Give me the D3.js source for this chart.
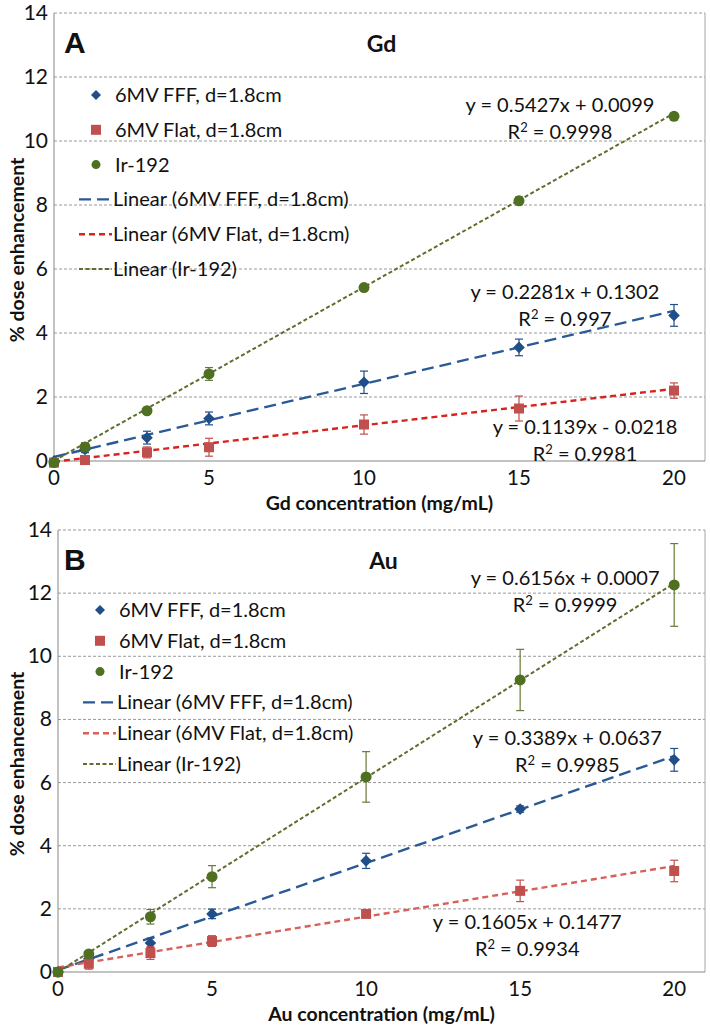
<!DOCTYPE html>
<html>
<head>
<meta charset="utf-8">
<script src="https://cdn.jsdelivr.net/npm/d3@7"></script>
<style>
  body { margin: 0; background: #fff; }
  svg text { font-family: Lato, "Open Sans", sans-serif; fill: #111; }
</style>
</head>
<body>
<script>
// concentrations (mg/mL) shared by both panels
const concentrations = [0, 1, 3, 5, 10, 15, 20];
const yTicks = [0, 2, 4, 6, 8, 10, 12, 14];
const xTicks = [0, 5, 10, 15, 20];

const seriesNames = ["6MV FFF, d=1.8cm", "6MV Flat, d=1.8cm", "Ir-192"];
const trendNames = ["Linear (6MV FFF, d=1.8cm)", "Linear (6MV Flat, d=1.8cm)", "Linear (Ir-192)"];

// panel A : Gd
const gdFFF     = [0.00, 0.36, 0.73, 1.33, 2.46, 3.55, 4.55];
const gdFFFErr  = [0.03, 0.10, 0.20, 0.20, 0.35, 0.26, 0.34];
const gdFlat    = [-0.05, 0.03, 0.27, 0.43, 1.14, 1.64, 2.20];
const gdFlatErr = [0.03, 0.05, 0.17, 0.28, 0.30, 0.39, 0.24];
const gdIr      = [-0.05, 0.44, 1.57, 2.72, 5.42, 8.13, 10.77];
const gdIrErr   = [0.03, 0.13, 0.10, 0.20, 0.08, 0.12, 0.10];
// slope, intercept, equation text, R² text
const gdFits = [
  [0.2281, 0.1302, "y = 0.2281x + 0.1302", "0.997"],
  [0.1139, -0.0218, "y = 0.1139x - 0.0218", "0.9981"],
  [0.5427, 0.0099, "y = 0.5427x + 0.0099", "0.9998"]
];

// panel B : Au
const auFFF     = [0.00, 0.42, 0.92, 1.84, 3.52, 5.16, 6.72];
const auFFFErr  = [0.03, 0.05, 0.15, 0.15, 0.24, 0.10, 0.36];
const auFlat    = [0.00, 0.26, 0.60, 0.98, 1.84, 2.57, 3.20];
const auFlatErr = [0.03, 0.17, 0.20, 0.17, 0.10, 0.34, 0.34];
const auIr      = [0.00, 0.57, 1.75, 3.02, 6.18, 9.25, 12.26];
const auIrErr   = [0.03, 0.05, 0.23, 0.35, 0.80, 0.97, 1.31];
const auFits = [
  [0.3389, 0.0637, "y = 0.3389x + 0.0637", "0.9985"],
  [0.1605, 0.1477, "y = 0.1605x + 0.1477", "0.9934"],
  [0.6156, 0.0007, "y = 0.6156x + 0.0007", "0.9999"]
];

const markerCol = ["#1F4E88", "#C0504D", "#4F7021"];
const errCol = ["#1F4E88", "#C0504D", "#667A3A"];

const panels = [
  { letter: "A", title: "Gd", xLabel: "Gd concentration (mg/mL)",
    left: 54, right: 705, top: 13, bottom: 461,
    values: [gdFFF, gdFlat, gdIr], errors: [gdFFFErr, gdFlatErr, gdIrErr], fits: gdFits,
    trendCol: ["#2A5A96", "#D8231E", "#5E6E2C"],
    eqAt: [[16.48, 5.28], [17.13, 1.06], [16.32, 11.12]],
    legend: { x: 79, y: 95, step: 34.8 } },
  { letter: "B", title: "Au", xLabel: "Au concentration (mg/mL)",
    left: 58, right: 705, top: 530, bottom: 972,
    values: [auFFF, auFlat, auIr], errors: [auFFFErr, auFlatErr, auIrErr], fits: auFits,
    trendCol: ["#2A5A96", "#D8605A", "#5E6E2C"],
    eqAt: [[16.53, 7.41], [15.23, 1.58], [16.46, 12.48]],
    legend: { x: 83, y: 610, step: 30.8 } }
];

const dashes = ["12,6", "6,4", "4,2.5"];
const trendWidth = [2.4, 2.4, 2];

const svg = d3.select("body").append("svg")
  .attr("width", 710)
  .attr("height", 1028);

// k: 0 diamond, 1 square, 2 circle; s = half size
function marker(g, k, s, col) {
  if (k === 0) {
    g.append("path").attr("d", `M0,${-s}L${s},0L0,${s}L${-s},0Z`).attr("fill", col);
  } else if (k === 1) {
    g.append("rect").attr("x", -s).attr("y", -s).attr("width", 2 * s).attr("height", 2 * s).attr("fill", col);
  } else {
    g.append("circle").attr("r", s).attr("fill", col);
  }
}

panels.forEach(p => {
  const x = d3.scaleLinear().domain([0, 21]).range([p.left, p.right]);
  const y = d3.scaleLinear().domain([0, 14]).range([p.bottom, p.top]);
  const g = svg.append("g");

  // gridlines
  g.selectAll("line.grid").data(yTicks.filter(t => t > 0)).join("line")
    .attr("x1", p.left).attr("x2", p.right)
    .attr("y1", d => y(d)).attr("y2", d => y(d))
    .attr("stroke", "#9a9a9a").attr("stroke-width", 1).attr("stroke-dasharray", "3,2");

  // frame
  g.append("line").attr("x1", p.right).attr("x2", p.right).attr("y1", p.top).attr("y2", p.bottom)
    .attr("stroke", "#a6a6a6");
  g.append("line").attr("x1", p.left).attr("x2", p.left).attr("y1", p.top).attr("y2", p.bottom)
    .attr("stroke", "#868686");
  g.append("line").attr("x1", p.left).attr("x2", p.right).attr("y1", p.bottom).attr("y2", p.bottom)
    .attr("stroke", "#868686");

  // tick labels
  g.selectAll("text.yt").data(yTicks).join("text")
    .attr("x", p.left - 6).attr("y", d => y(d) + 7)
    .attr("text-anchor", "end").style("font-size", "21px")
    .text(d => d);
  g.selectAll("text.xt").data(xTicks).join("text")
    .attr("x", d => x(d)).attr("y", p.bottom + 24)
    .attr("text-anchor", "middle").style("font-size", "20.5px")
    .text(d => d);

  // axis titles
  g.append("text")
    .attr("x", (p.left + p.right) / 2).attr("y", p.bottom + 49)
    .attr("text-anchor", "middle").style("font-size", "19.5px").style("font-weight", "bold")
    .text(p.xLabel);
  g.append("text")
    .attr("transform", `translate(24,${(p.top + p.bottom) / 2 + 13}) rotate(-90)`)
    .attr("text-anchor", "middle").style("font-size", "19.5px").style("font-weight", "bold")
    .text("% dose enhancement");

  // panel letter and title
  g.append("text").attr("x", 64).attr("y", p.top + 40)
    .style("font-family", "'Liberation Sans', Arial, sans-serif")
    .style("font-size", "30px").style("font-weight", "bold").text(p.letter);
  g.append("text").attr("x", (p.left + p.right) / 2 + 2).attr("y", p.top + 39)
    .attr("text-anchor", "middle").style("font-size", "23px").style("font-weight", "bold")
    .text(p.title);

  // trend lines
  p.fits.forEach((f, k) => {
    g.append("line")
      .attr("x1", x(0)).attr("y1", y(f[1]))
      .attr("x2", x(20)).attr("y2", y(f[0] * 20 + f[1]))
      .attr("stroke", p.trendCol[k]).attr("stroke-width", trendWidth[k])
      .attr("stroke-dasharray", dashes[k]);
  });

  // error bars and markers
  p.values.forEach((vals, k) => {
    const pts = concentrations.map((c, i) => ({ c, v: vals[i], e: p.errors[k][i] }));
    const eb = g.append("g").attr("stroke", errCol[k]).attr("stroke-width", 1.2);
    pts.forEach(d => {
      eb.append("line").attr("x1", x(d.c)).attr("x2", x(d.c))
        .attr("y1", y(d.v - d.e)).attr("y2", y(d.v + d.e));
      [d.v - d.e, d.v + d.e].forEach(t => {
        eb.append("line").attr("x1", x(d.c) - 4).attr("x2", x(d.c) + 4)
          .attr("y1", y(t)).attr("y2", y(t));
      });
    });
    pts.forEach(d => {
      const m = g.append("g").attr("transform", `translate(${x(d.c)},${y(d.v)})`);
      marker(m, k, k === 0 ? 5.8 : (k === 1 ? 5 : 5.5), markerCol[k]);
    });
  });

  // equation labels
  p.fits.forEach((f, k) => {
    const cx = x(p.eqAt[k][0]), cy = y(p.eqAt[k][1]);
    g.append("text").attr("x", cx).attr("y", cy + 7)
      .attr("text-anchor", "middle").style("font-size", "20px").text(f[2]);
    const r = g.append("text").attr("x", cx).attr("y", cy + 34)
      .attr("text-anchor", "middle").style("font-size", "20px");
    r.append("tspan").text("R");
    r.append("tspan").attr("dy", -7).style("font-size", "13px").text("2");
    r.append("tspan").attr("dy", 7).text(" = " + f[3]);
  });

  // legend
  const lg = g.append("g");
  seriesNames.forEach((name, k) => {
    const ry = p.legend.y + k * p.legend.step;
    const m = lg.append("g").attr("transform", `translate(${p.legend.x + 17},${ry})`);
    marker(m, k, k === 0 ? 5 : (k === 1 ? 5 : 4.5), markerCol[k]);
    lg.append("text").attr("x", p.legend.x + 36).attr("y", ry + 7)
      .style("font-size", "20px").text(name);
  });
  trendNames.forEach((name, k) => {
    const ry = p.legend.y + (k + 3) * p.legend.step;
    lg.append("line").attr("x1", p.legend.x).attr("x2", p.legend.x + 33)
      .attr("y1", ry).attr("y2", ry)
      .attr("stroke", p.trendCol[k]).attr("stroke-width", trendWidth[k])
      .attr("stroke-dasharray", dashes[k]);
    lg.append("text").attr("x", p.legend.x + 34).attr("y", ry + 7)
      .style("font-size", "20px").text(name);
  });
});
</script>
</body>
</html>
